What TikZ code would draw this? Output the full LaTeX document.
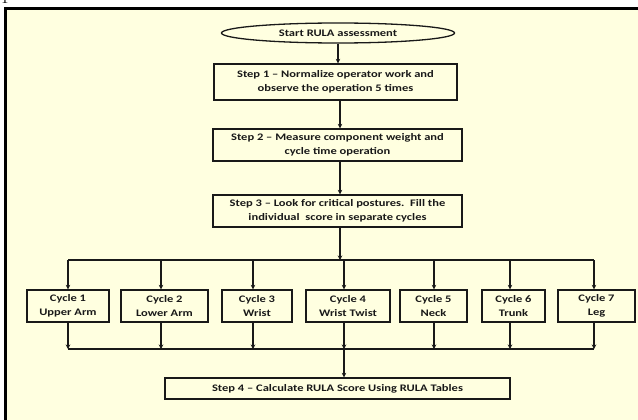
\documentclass[tikz,border=0pt]{standalone}
\usepackage{fontspec}
\setmainfont{Carlito}[FakeStretch=1.25]
\newfontfamily\digitfont{Liberation Serif}
\usetikzlibrary{arrows.meta,shapes.geometric}
\definecolor{cream}{RGB}{255,255,224}
\definecolor{ink}{RGB}{25,25,25}
\tikzset{
  stepbox/.style={draw=ink, line width=1.3pt, fill=cream, inner sep=0pt, align=center,
    font=\fontsize{10}{14.5}\selectfont\bfseries, text=ink},
  startshape/.style={stepbox, ellipse},
  arr/.style={draw=ink, line width=1.3pt, -{Stealth[length=4.5pt,width=4.5pt]}},
  bus/.style={draw=ink, line width=1.3pt},
}
\begin{document}
\begin{tikzpicture}[x=1pt,y=-1pt]
\useasboundingbox (0,0) rectangle (638,420);
% frame
\fill[cream] (5,8) rectangle (640,422);
\draw[black, line width=3pt] (5.5,430) -- (5.5,8.5) -- (645,8.5);
\node[anchor=base, font=\digitfont\fontsize{14}{14}\selectfont, inner sep=0pt] (digit) at (5,4) {1};
% nodes
\node[startshape, minimum width=233pt, minimum height=20pt] (start) at (338,33) {Start RULA assessment};
\node[stepbox, minimum width=243pt, minimum height=36pt] (s1) at (335.5,82) {Step 1 -- Normalize operator work and\\observe the operation 5 times};
\node[stepbox, minimum width=249pt, minimum height=32pt] (s2) at (337.5,145) {Step 2 -- Measure component weight and\\cycle time operation};
\node[stepbox, minimum width=249pt, minimum height=32pt] (s3) at (337.5,211) {Step 3 -- Look for critical postures.\ \ Fill the\\individual\ \ score in separate cycles};
\node[stepbox, minimum width=82pt, minimum height=32pt] (c1) at (68,306) {Cycle 1\\Upper Arm};
\node[stepbox, minimum width=87pt, minimum height=32pt] (c2) at (164.5,306) {Cycle 2\\Lower Arm};
\node[stepbox, minimum width=70pt, minimum height=32pt] (c3) at (257,306) {Cycle 3\\Wrist};
\node[stepbox, minimum width=84pt, minimum height=32pt] (c4) at (348,306) {Cycle 4\\Wrist Twist};
\node[stepbox, minimum width=67pt, minimum height=32pt] (c5) at (433.5,306) {Cycle 5\\Neck};
\node[stepbox, minimum width=63pt, minimum height=32pt] (c6) at (513.5,306) {Cycle 6\\Trunk};
\node[stepbox, minimum width=77pt, minimum height=32pt] (c7) at (596.5,306) {Cycle 7\\Leg};
\node[stepbox, minimum width=345pt, minimum height=21pt] (s4) at (337.5,388.5) {Step 4 -- Calculate RULA Score Using RULA Tables};
% bus coordinates
\foreach \i/\x in {1/68,2/161,3/253,4/344,5/434,6/510,7/594}{
  \coordinate (t\i) at (\x,260);
  \coordinate (b\i) at (\x,349);
}
\coordinate (stem) at (340,260);
% connectors
\draw[arr] (start.south) -- (start.south |- s1.north);
\draw[arr] (s1.south -| stem) -- (s2.north -| stem);
\draw[arr] (s2.south -| stem) -- (s3.north -| stem);
\draw[arr] (s3.south -| stem) -- (stem);
\draw[bus] (t1) -- (t7);
\draw[bus] (b1) -- (b7);
\foreach \i in {1,...,7}{
  \draw[arr] (t\i) -- (t\i |- c\i.north);
  \draw[arr] (b\i |- c\i.south) -- (b\i);
}
\draw[arr] (b4) -- (b4 |- s4.north);
\end{tikzpicture}
\end{document}
